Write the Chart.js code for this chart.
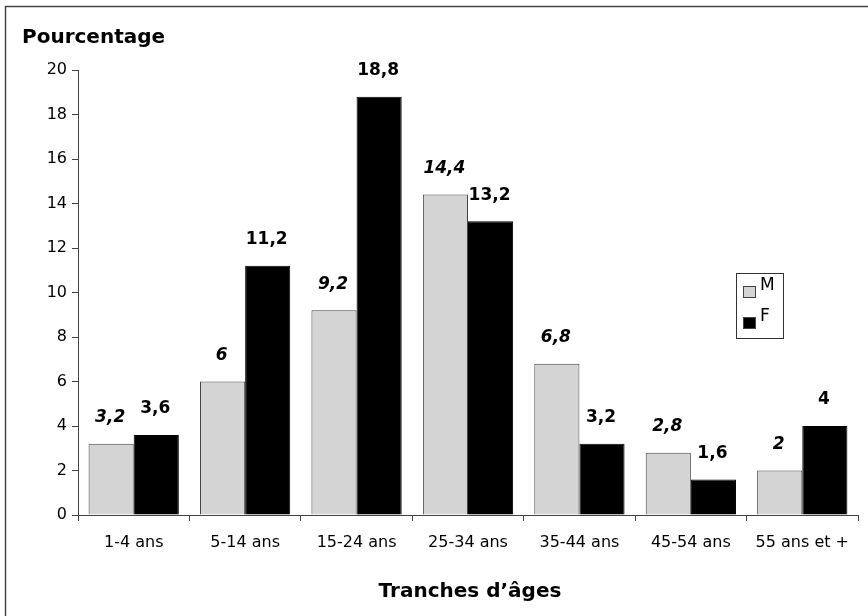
<!DOCTYPE html>
<html><head><meta charset="utf-8">
<script src="https://cdn.jsdelivr.net/npm/chart.js@4/dist/chart.umd.min.js"></script>
<style>html,body{margin:0;padding:0;background:#fff}#wrap{width:868px;height:616px;position:relative}</style>
</head><body><div id="wrap"><canvas id="c" width="868" height="616"></canvas></div>
<script>
const categories = ["1-4 ans","5-14 ans","15-24 ans","25-34 ans","35-44 ans","45-54 ans","55 ans et +"];
const valuesM = [3.2, 6, 9.2, 14.4, 6.8, 2.8, 2];
const valuesF = [3.6, 11.2, 18.8, 13.2, 3.2, 1.6, 4];
const seriesNames = ["M","F"];
const yTitle = "Pourcentage";
const xTitle = "Tranches d\u2019\u00e2ges";

const FONT = "'DejaVu Sans', 'Liberation Sans', Arial, sans-serif";
const fmt = v => String(v).replace('.', ',');

const decorPlugin = {
  id: 'decor',
  afterDraw(chart) {
    const ctx = chart.ctx;
    const ca = chart.chartArea;
    ctx.save();
    // outer frame
    ctx.strokeStyle = '#444';
    ctx.lineWidth = 1.5;
    ctx.strokeRect(5.5, 6.5, 900, 700);
    // titles
    ctx.fillStyle = '#000';
    ctx.font = "bold 20px " + FONT;
    ctx.textAlign = 'left';
    ctx.textBaseline = 'middle';
    ctx.fillText(yTitle, 22, 38);
    ctx.textAlign = 'center';
    ctx.fillText(xTitle, 470, 592);
    // data labels
    chart.data.datasets.forEach((ds, di) => {
      const meta = chart.getDatasetMeta(di);
      ctx.font = (di === 0 ? "italic " : "") + "bold 17px " + FONT;
      meta.data.forEach((bar, i) => {
        ctx.fillText(fmt(ds.data[i]), bar.x - 1, bar.y - 26);
      });
    });
    // legend
    const lx = 736.5, ly = 273.5, lw = 47, lh = 65;
    ctx.fillStyle = '#fff';
    ctx.fillRect(lx, ly, lw, lh);
    ctx.strokeStyle = '#333';
    ctx.lineWidth = 1;
    ctx.strokeRect(lx, ly, lw, lh);
    const items = [
      {name: seriesNames[0], fill: '#d4d4d4', y: 286},
      {name: seriesNames[1], fill: '#000', y: 317}
    ];
    items.forEach(it => {
      ctx.fillStyle = it.fill;
      ctx.fillRect(743.5, it.y + 0.5, 12, 11);
      ctx.strokeStyle = '#444';
      ctx.strokeRect(743.5, it.y + 0.5, 12, 11);
      ctx.fillStyle = '#000';
      ctx.font = "17px " + FONT;
      ctx.textAlign = 'left';
      ctx.textBaseline = 'middle';
      ctx.fillText(it.name, 760, it.y + 0);
    });
    ctx.restore();
  }
};

new Chart(document.getElementById('c'), {
  type: 'bar',
  data: {
    labels: categories,
    datasets: [
      {label: seriesNames[0], data: valuesM, backgroundColor: '#d4d4d4', borderColor: '#444', borderWidth: 1, categoryPercentage: 0.81, barPercentage: 1.0},
      {label: seriesNames[1], data: valuesF, backgroundColor: '#000', borderColor: '#000', borderWidth: 1, categoryPercentage: 0.81, barPercentage: 1.0}
    ]
  },
  options: {
    responsive: false,
    animation: false,
    layout: {padding: {left: 0, right: 10, top: 70, bottom: 0}},
    plugins: {legend: {display: false}, tooltip: {enabled: false}, title: {display: false}},
    scales: {
      x: {
        grid: {display: true, drawOnChartArea: false, drawTicks: true, tickLength: 6, color: '#444', offset: true},
        border: {display: true, color: '#444', width: 1},
        ticks: {color: '#000', font: {family: FONT, size: 16}, padding: 12, maxRotation: 0},
        afterFit(s) { s.height = 101; }
      },
      y: {
        min: 0, max: 20,
        grid: {display: true, drawOnChartArea: false, drawTicks: true, tickLength: 6, color: '#444'},
        border: {display: true, color: '#444', width: 1},
        ticks: {stepSize: 2, color: '#000', font: {family: FONT, size: 16}, padding: 5},
        afterFit(s) { s.width = 78; }
      }
    }
  },
  plugins: [decorPlugin]
});
</script>
</body></html>
